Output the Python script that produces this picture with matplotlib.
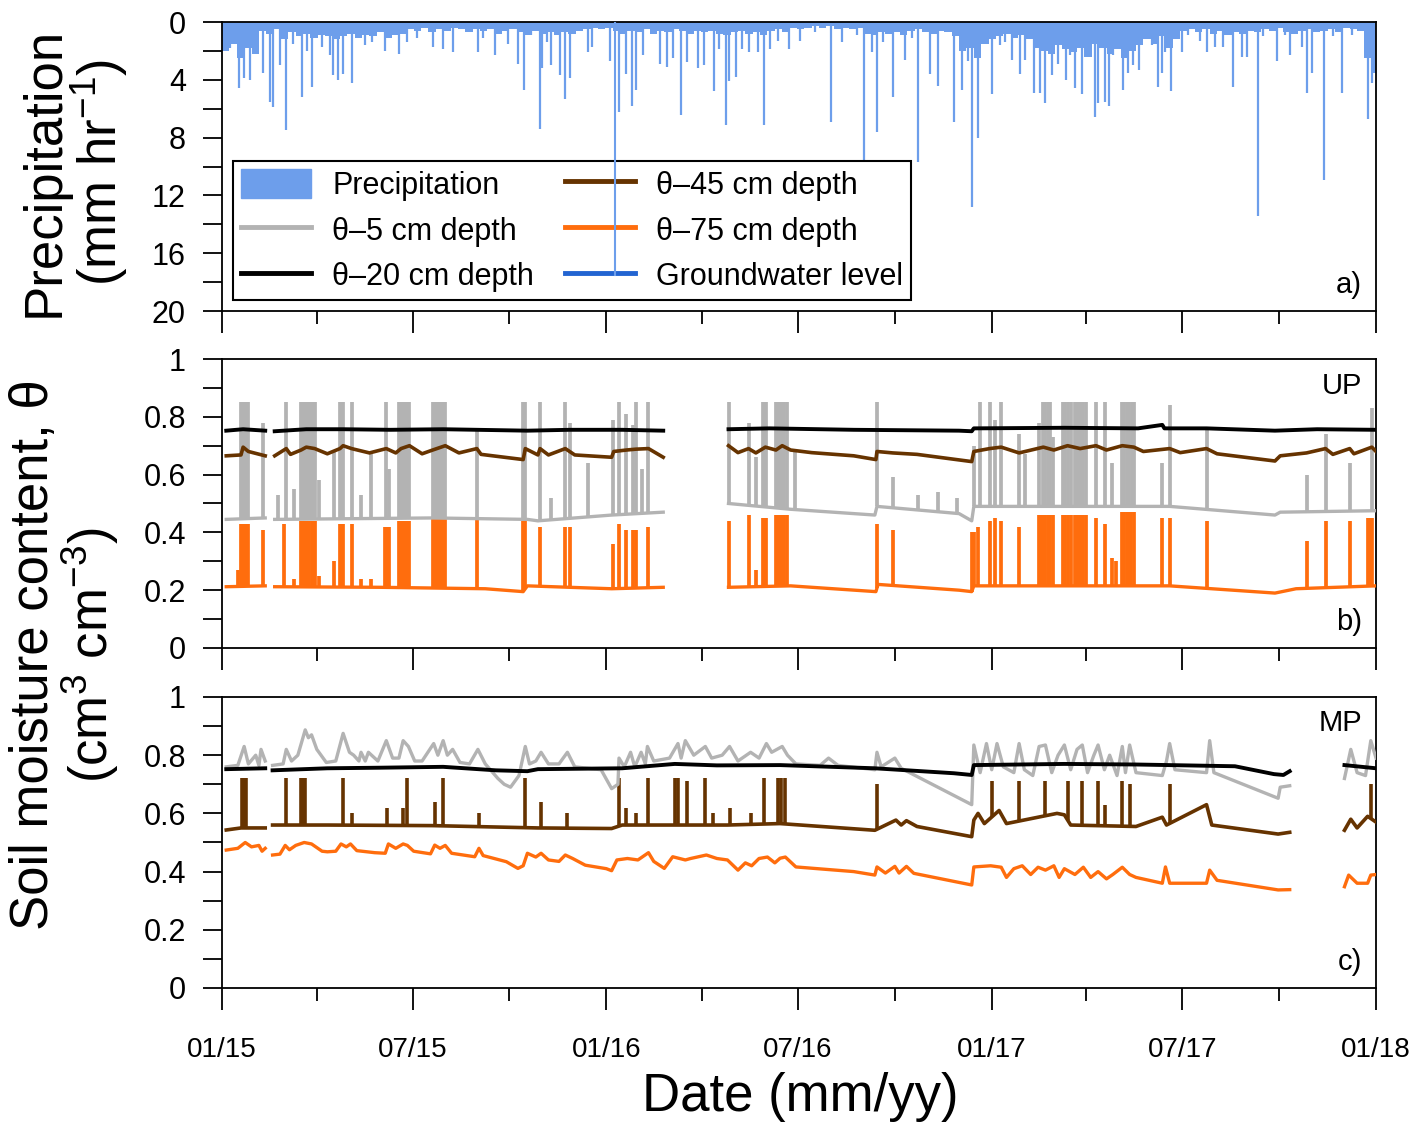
import numpy as np
import matplotlib
matplotlib.use("Agg")
import matplotlib.pyplot as plt
import matplotlib.dates as mdates
import matplotlib.patches as mpatches
from matplotlib.lines import Line2D
from matplotlib.ticker import MultipleLocator, FuncFormatter

plt.rcParams['font.family'] = ['Liberation Sans', 'DejaVu Sans']
plt.rcParams['mathtext.default'] = 'regular'

nan = np.nan

# all dates are days after 2015-01-01
# weekly background of small precipitation (mm/hr)
precip_bg = [2.0, 1.5, 2.5, 1.8, 2.2, 0.6, 0.8, 0.5, 1.2, 0.7,
             1.0, 0.8, 1.1, 0.9, 1.0, 1.2, 1.0, 0.8, 1.1, 0.9,
             1.0, 0.7, 1.1, 0.9, 0.8, 0.5, 0.6, 0.4, 0.7, 0.5,
             0.6, 0.4, 0.5, 0.7, 0.5, 0.6, 0.5, 0.8, 0.6, 0.5,
             0.7, 0.9, 0.6, 0.8, 0.7, 0.9, 0.7, 0.8, 0.6, 0.5,
             0.4, 0.5, 0.4, 0.6, 0.8, 0.6, 0.7, 0.5, 0.8, 0.6,
             0.7, 0.5, 0.6, 0.8, 0.6, 0.7, 0.6, 0.8, 0.9, 0.7,
             0.6, 0.8, 0.7, 0.9, 0.6, 0.5, 0.7, 0.4, 0.5, 0.4,
             0.3, 0.4, 0.3, 0.5, 0.4, 0.5, 0.4, 0.8, 0.9, 0.7,
             0.8, 0.7, 0.9, 0.6, 0.5, 0.7, 0.8, 0.6, 0.7, 1.0,
             2.0, 1.8, 2.5, 1.5, 1.2, 1.0, 0.8, 1.1, 0.9, 1.2,
             1.8, 2.0, 2.2, 1.6, 1.9, 2.1, 1.8, 2.4, 1.5, 1.8,
             2.2, 1.9, 2.5, 2.0, 1.6, 1.2, 1.5, 1.0, 1.8, 1.2,
             0.6, 0.5, 0.7, 0.5, 0.8, 0.6, 0.9, 0.7, 0.8, 0.6,
             0.7, 0.5, 0.6, 0.4, 0.7, 0.8, 0.6, 0.5, 0.7, 0.6,
             0.5, 0.7, 0.4, 0.5, 0.6, 2.5, 3.5]

# individual precipitation events (day, mm/hr)
precip_events = [
    (8, 1.8), (16, 4.6), (21, 3.9), (27, 4.0), (29, 1.8), (39, 3.5), (46, 5.5), (48, 5.9),
    (55, 3.0), (61, 7.5), (67, 1.5), (76, 5.2), (81, 2.0), (85, 4.5), (95, 1.7), (103, 2.3),
    (105, 3.7), (110, 4.0), (115, 3.6), (123, 4.2), (128, 1.0), (136, 1.6), (142, 1.4),
    (155, 2.0), (168, 2.2), (176, 1.4), (185, 1.1), (200, 1.7), (210, 1.9), (219, 2.1),
    (243, 2.1), (248, 1.1), (259, 2.3), (272, 1.5), (281, 2.9), (287, 4.7), (293, 0.9),
    (302, 7.4), (304, 3.2), (309, 1.4), (312, 3.0), (321, 3.7), (326, 5.3), (330, 3.9),
    (348, 2.1), (351, 1.7), (368, 2.7), (377, 6.2), (384, 3.6), (389, 5.8), (393, 4.7),
    (400, 2.3), (416, 2.9), (423, 3.1), (428, 2.5), (436, 6.4), (442, 2.8), (452, 3.2),
    (458, 3.0), (467, 4.8), (472, 1.9), (479, 7.1), (481, 4.1), (488, 3.8), (494, 1.9),
    (500, 2.1), (509, 2.1), (515, 7.1), (520, 1.9), (528, 1.3), (538, 1.9), (549, 1.3),
    (563, 0.7), (578, 6.9), (589, 1.4), (603, 0.9), (610, 9.8), (617, 2.1), (622, 7.6),
    (628, 1.4), (637, 5.2), (649, 2.6), (655, 1.1), (661, 9.7), (672, 3.6), (680, 4.4),
    (695, 6.9), (703, 4.7), (708, 2.7), (712, 12.8), (718, 8.0), (731, 5.0), (739, 1.6),
    (744, 1.4), (750, 2.6), (758, 3.6), (763, 2.6), (771, 4.9), (777, 4.9), (782, 5.6),
    (788, 3.7), (794, 2.9), (802, 4.0), (805, 2.3), (810, 4.6), (817, 5.0), (822, 2.1),
    (829, 6.6), (832, 5.6), (839, 5.5), (842, 5.8), (846, 2.3), (851, 1.9), (856, 4.7),
    (860, 3.5), (865, 3.0), (871, 3.3), (878, 0.9), (883, 1.6), (889, 4.5), (893, 3.5),
    (896, 2.1), (901, 4.8), (912, 2.1), (917, 0.9), (929, 1.3), (935, 2.1), (943, 1.7),
    (951, 1.7), (960, 4.5), (969, 2.4), (973, 2.4), (984, 13.4), (989, 1.0), (1002, 2.7),
    (1010, 0.9), (1014, 2.3), (1026, 1.7), (1030, 4.9), (1035, 3.5), (1047, 10.9),
    (1055, 1.0), (1064, 4.9), (1073, 0.9), (1083, 0.5), (1088, 6.7), (1092, 4.2)]

groundwater = [(373, 0.0), (373, 17.5)]

# ---- UP site ----
up5 = [(4, .445), (41, .45), (45, nan), (50, .445), (200, .45), (290, .445), (300, .44),
       (370, .46), (419, .47), (450, nan), (481, .50), (540, .48), (620, .46), (622, .49),
       (700, .465), (712, .44), (714, .49), (900, .49), (1000, .46), (1005, .47), (1096, .475)]
up5_spikes = [
    (18, .85), (19, .85), (20, .85), (21, .85), (22, .85), (23, .85), (24, .85), (25, .85),
    (39, .78), (53, .53), (61, .85), (68, .55), (75, .85), (76, .85), (77, .85), (78, .85),
    (79, .85), (80, .85), (81, .85), (82, .85), (83, .85), (84, .85), (85, .85), (86, .85),
    (87, .85), (88, .85), (92, .58), (106, .68), (112, .85), (113, .85), (114, .85), (115, .85),
    (123, .85), (132, .53), (141, .67), (156, .85), (159, .62), (168, .85), (169, .85),
    (171, .85), (173, .85), (175, .85), (177, .85), (178, .85), (200, .85), (202, .85),
    (204, .85), (206, .85), (208, .85), (210, .85), (212, .85), (242, .75), (286, .85),
    (288, .85), (302, .85), (312, .52), (326, .85), (330, .78), (348, .64), (371, .79),
    (377, .85), (384, .81), (390, .77), (393, .85), (399, .62), (405, .85), (481, .85),
    (500, .78), (507, .66), (514, .85), (516, .85), (517, .85), (526, .85), (528, .85),
    (530, .85), (532, .85), (534, .85), (537, .85), (544, .68), (622, .85), (637, .59),
    (661, .53), (680, .54), (698, .52), (714, .70), (720, .85), (729, .85), (734, .79),
    (740, .85), (757, .74), (763, .67), (776, .78), (780, .85), (782, .85), (784, .85),
    (786, .85), (789, .73), (799, .85), (801, .85), (803, .85), (806, .85), (810, .85),
    (812, .85), (814, .85), (816, .85), (818, .85), (821, .85), (830, .85), (839, .85),
    (845, .64), (855, .85), (857, .85), (859, .85), (861, .85), (864, .85), (866, .85),
    (893, .64), (900, .84), (935, .76), (1030, .60), (1048, .74), (1071, .64), (1092, .83)]
up20 = [(4, .752), (20, .757), (41, .752), (45, nan), (50, .750), (80, .757), (115, .757),
        (160, .755), (210, .757), (290, .752), (330, .755), (380, .755), (419, .752), (450, nan),
        (481, .757), (520, .760), (600, .755), (700, .752), (712, .750), (714, .760), (800, .762),
        (870, .760), (893, .772), (895, .760), (935, .760), (1000, .752), (1040, .757), (1096, .755)]
up45 = [(4, .665), (18, .668), (20, .695), (25, .680), (41, .665), (45, nan), (50, .665),
        (61, .690), (65, .670), (75, .685), (80, .695), (88, .690), (100, .672), (112, .690),
        (115, .700), (123, .690), (140, .675), (156, .690), (165, .675), (170, .690), (178, .700),
        (190, .672), (200, .685), (212, .700), (225, .675), (242, .690), (246, .670), (286, .652),
        (288, .690), (300, .668), (302, .690), (310, .668), (326, .690), (335, .668), (370, .660),
        (372, .680), (384, .685), (393, .688), (405, .690), (419, .660), (450, nan), (481, .700),
        (490, .676), (500, .690), (507, .675), (516, .695), (526, .685), (532, .700), (540, .685),
        (560, .676), (600, .665), (621, .652), (622, .680), (637, .675), (660, .670), (712, .645),
        (714, .680), (729, .690), (740, .695), (757, .675), (780, .695), (790, .685), (803, .700),
        (815, .690), (830, .700), (840, .685), (855, .700), (866, .695), (875, .680), (900, .690),
        (910, .676), (935, .690), (945, .672), (1000, .647), (1005, .665), (1030, .675),
        (1048, .690), (1055, .670), (1071, .690), (1075, .672), (1092, .695), (1096, .680)]
up75 = [(4, .212), (41, .215), (45, nan), (50, .212), (150, .21), (250, .205), (286, .195),
        (290, .215), (330, .21), (370, .205), (419, .21), (450, nan), (481, .21), (540, .215),
        (621, .195), (623, .22), (700, .20), (712, .195), (714, .215), (900, .215), (1000, .19),
        (1020, .205), (1096, .215)]
up75_spikes = [
    (15, .27), (18, .43), (19, .43), (20, .43), (21, .43), (22, .43), (23, .43), (24, .43),
    (25, .43), (39, .41), (59, .43), (68, .24), (75, .44), (77, .44), (79, .44), (81, .44),
    (83, .44), (85, .44), (87, .44), (88, .44), (92, .25), (106, .30), (112, .43), (113, .43),
    (114, .43), (115, .43), (123, .43), (132, .24), (141, .24), (155, .42), (157, .42),
    (159, .42), (168, .44), (170, .44), (172, .44), (174, .44), (176, .44), (178, .44),
    (200, .45), (202, .45), (204, .45), (206, .45), (208, .45), (210, .45), (212, .45),
    (242, .45), (286, .44), (288, .44), (302, .42), (326, .42), (330, .42), (371, .36),
    (377, .43), (384, .41), (390, .41), (393, .41), (405, .42), (481, .44), (500, .46),
    (507, .27), (514, .45), (516, .45), (517, .45), (526, .46), (528, .46), (530, .46),
    (532, .46), (534, .46), (537, .46), (622, .43), (637, .41), (712, .40), (714, .40),
    (718, .42), (729, .44), (734, .45), (740, .44), (757, .42), (776, .46), (778, .46),
    (780, .46), (782, .46), (784, .46), (786, .46), (789, .46), (799, .46), (801, .46),
    (803, .46), (806, .46), (810, .46), (812, .46), (814, .46), (816, .46), (818, .46),
    (821, .46), (830, .45), (839, .43), (845, .31), (849, .30), (855, .47), (857, .47),
    (859, .47), (861, .47), (863, .47), (866, .47), (893, .45), (900, .45), (935, .44),
    (1030, .37), (1048, .44), (1071, .44), (1088, .45), (1090, .45), (1092, .45)]

# ---- MP site ----
mp5 = [(4, .76), (15, .765), (21, .83), (25, .77), (32, .80), (35, .765), (37, .82), (41, .78),
       (45, nan), (48, .765), (58, .77), (61, .82), (66, .78), (72, .80), (79, .887), (82, .86),
       (85, .87), (90, .82), (96, .79), (99, .775), (108, .78), (115, .875), (121, .81), (125, .80),
       (130, .78), (132, .81), (136, .78), (139, .81), (148, .78), (156, .85), (162, .79),
       (168, .79), (172, .85), (177, .83), (183, .78), (190, .78), (201, .84), (205, .80),
       (210, .85), (214, .80), (219, .82), (226, .775), (235, .77), (243, .82), (250, .77),
       (262, .72), (268, .70), (274, .69), (282, .73), (288, .83), (292, .77), (298, .78),
       (303, .81), (310, .77), (320, .77), (328, .81), (335, .76), (360, .75), (370, .685),
       (376, .70), (377, .79), (382, .76), (388, .81), (392, .76), (398, .81), (402, .77),
       (404, .83), (410, .78), (425, .79), (433, .84), (436, .79), (440, .85), (448, .80),
       (459, .83), (465, .79), (475, .80), (482, .83), (490, .78), (502, .81), (510, .79),
       (517, .84), (522, .81), (532, .83), (537, .80), (545, .77), (568, .765), (576, .79),
       (585, .765), (620, .75), (622, .81), (626, .76), (639, .79), (645, .755), (712, .63),
       (714, .835), (720, .74), (726, .84), (731, .75), (736, .84), (742, .76), (752, .74),
       (757, .84), (762, .75), (770, .73), (776, .83), (782, .835), (788, .74), (794, .80),
       (800, .835), (806, .75), (812, .82), (817, .835), (822, .74), (828, .80), (832, .835),
       (838, .75), (843, .80), (850, .73), (855, .83), (858, .74), (862, .835), (868, .74),
       (893, .73), (897, .78), (900, .84), (905, .75), (935, .74), (938, .85), (942, .74),
       (1003, .652), (1005, .69), (1014, .695), (1040, nan), (1066, .72), (1072, .82),
       (1078, .74), (1086, .73), (1091, .85), (1096, .79)]
mp20 = [(4, .752), (41, .755), (45, nan), (48, .748), (100, .755), (150, .757), (210, .76),
        (260, .748), (290, .745), (300, .752), (380, .755), (430, .77), (470, .765), (530, .766),
        (620, .755), (695, .738), (712, .732), (714, .766), (800, .77), (868, .768), (962, .762),
        (999, .735), (1008, .732), (1014, .745), (1040, nan), (1066, .766), (1096, .755)]
mp45 = [(4, .543), (18, .55), (41, .55), (45, nan), (48, .56), (100, .56), (200, .558),
        (300, .55), (370, .548), (380, .56), (480, .56), (530, .565), (620, .542), (640, .577),
        (645, .56), (650, .575), (660, .555), (712, .52), (714, .577), (718, .60), (724, .565),
        (738, .61), (745, .565), (793, .60), (800, .595), (806, .56), (868, .555), (893, .587),
        (897, .56), (935, .63), (940, .56), (1003, .529), (1014, .535), (1040, nan), (1066, .542),
        (1072, .58), (1078, .55), (1088, .59), (1096, .57)]
mp45_spikes = [
    (19, .72), (21, .72), (23, .72), (61, .72), (75, .72), (77, .72), (79, .72), (115, .72),
    (123, .60), (157, .62), (172, .62), (176, .72), (202, .64), (210, .72), (244, .60),
    (288, .72), (303, .64), (328, .60), (377, .72), (384, .62), (393, .60), (405, .72),
    (430, .72), (433, .72), (442, .71), (459, .72), (466, .60), (482, .62), (502, .60),
    (515, .72), (528, .72), (531, .72), (535, .72), (622, .70), (731, .71), (757, .71),
    (782, .71), (803, .71), (817, .71), (832, .71), (839, .63), (855, .71), (862, .70),
    (900, .70), (1091, .70)]
mp75 = [(4, .474), (15, .48), (22, .50), (28, .485), (35, .49), (38, .47), (41, .48), (45, nan),
        (48, .457), (55, .46), (60, .49), (64, .475), (70, .49), (78, .50), (85, .495), (95, .47),
        (100, .468), (108, .47), (113, .495), (118, .485), (122, .495), (128, .472), (145, .465),
        (155, .463), (158, .495), (165, .48), (172, .495), (176, .49), (182, .47), (198, .461),
        (202, .491), (207, .48), (212, .49), (218, .463), (240, .451), (244, .48), (248, .455),
        (270, .434), (281, .411), (286, .42), (290, .463), (298, .45), (303, .463), (310, .44),
        (320, .435), (326, .457), (333, .445), (345, .422), (365, .41), (370, .403), (375, .44),
        (385, .445), (395, .44), (405, .465), (410, .435), (420, .411), (428, .451), (440, .44),
        (445, .445), (460, .457), (470, .445), (480, .44), (490, .405), (497, .43), (503, .42),
        (510, .445), (518, .45), (525, .43), (530, .446), (535, .45), (545, .416), (600, .40),
        (620, .388), (622, .416), (630, .395), (639, .418), (643, .395), (650, .418), (657, .394),
        (712, .354), (714, .416), (730, .42), (740, .415), (745, .38), (752, .41), (760, .42),
        (768, .39), (775, .415), (782, .405), (790, .42), (795, .38), (800, .41), (810, .39),
        (818, .415), (825, .38), (832, .40), (840, .375), (846, .39), (855, .415), (862, .39),
        (868, .38), (893, .36), (896, .416), (900, .36), (935, .36), (938, .405), (945, .37),
        (1003, .337), (1014, .338), (1040, nan), (1066, .348), (1070, .388), (1078, .36),
        (1088, .36), (1091, .388), (1096, .39)]

c_precip = '#6d9eeb'
c_gw = '#2264d1'
c5, c20, c45, c75 = '#b3b3b3', '#000000', '#663300', '#ff6d0d'

t0 = mdates.date2num(np.datetime64('2015-01-01'))


def xy(pairs):
    a = np.array(pairs, dtype=float)
    return t0 + a[:, 0], a[:, 1]


def spikes(ax, base, spk, color, lw):
    bx, by = xy(base)
    ok = ~np.isnan(by)
    sx, sy = xy(spk)
    bottom = np.interp(sx, bx[ok], by[ok])
    ax.vlines(sx, bottom, sy, color=color, lw=lw, zorder=2)


fig = plt.figure(figsize=(14.17, 11.24), dpi=100)
axa = fig.add_axes([0.1567, 0.7233, 0.8144, 0.2571])
axb = fig.add_axes([0.1567, 0.4235, 0.8144, 0.2571])
axc = fig.add_axes([0.1567, 0.1210, 0.8144, 0.2589])

# panel a: precipitation
wk = t0 + 7 * np.arange(len(precip_bg))
axa.bar(wk, precip_bg, width=7, align='edge', color=c_precip, lw=0)
px, py = xy(precip_events)
axa.vlines(px, 0, py, color=c_precip, lw=1.6)
gx, gy = xy(groundwater)
axa.plot(gx, gy, color=c_precip, lw=1.5, zorder=6)
axa.set_ylim(20, 0)
axa.yaxis.set_major_locator(MultipleLocator(4))
axa.yaxis.set_minor_locator(MultipleLocator(2))

handles = [mpatches.Patch(color=c_precip, label='Precipitation'),
           Line2D([], [], color=c5, lw=3.5, label='\u03b8\u20135 cm depth'),
           Line2D([], [], color=c20, lw=3.5, label='\u03b8\u201320 cm depth'),
           Line2D([], [], color=c45, lw=3.5, label='\u03b8\u201345 cm depth'),
           Line2D([], [], color=c75, lw=3.5, label='\u03b8\u201375 cm depth'),
           Line2D([], [], color=c_gw, lw=3.5, label='Groundwater level')]
leg = axa.legend(handles=handles, ncol=2, loc='lower left', bbox_to_anchor=(0.0095, 0.038),
                 borderaxespad=0, fontsize=22, frameon=True, fancybox=False, framealpha=1,
                 edgecolor='black', handlelength=2.3, handleheight=1.1, handletextpad=0.7,
                 columnspacing=1.0, labelspacing=0.45, borderpad=0.25)
leg.get_frame().set_linewidth(1.5)
axa.text(0.988, 0.04, 'a)', transform=axa.transAxes, ha='right', va='bottom', fontsize=21)

# panel b: UP
for base, spk, col in [(up5, up5_spikes, c5), (up75, up75_spikes, c75)]:
    spikes(axb, base, spk, col, 2.7)
for ser, col, lw in [(up5, c5, 2.4), (up75, c75, 2.4), (up45, c45, 2.6), (up20, c20, 2.8)]:
    x, y = xy(ser)
    axb.plot(x, y, color=col, lw=lw, zorder=3)
axb.text(0.988, 0.955, 'UP', transform=axb.transAxes, ha='right', va='top', fontsize=21)
axb.text(0.988, 0.04, 'b)', transform=axb.transAxes, ha='right', va='bottom', fontsize=21)

# panel c: MP
spikes(axc, mp45, mp45_spikes, c45, 2.6)
for ser, col, lw in [(mp5, c5, 2.4), (mp75, c75, 2.4), (mp45, c45, 2.6), (mp20, c20, 2.8)]:
    x, y = xy(ser)
    axc.plot(x, y, color=col, lw=lw, zorder=3)
axc.text(0.988, 0.96, 'MP', transform=axc.transAxes, ha='right', va='top', fontsize=21)
axc.text(0.988, 0.04, 'c)', transform=axc.transAxes, ha='right', va='bottom', fontsize=21)

for ax in (axb, axc):
    ax.set_ylim(0, 1)
    ax.yaxis.set_major_locator(MultipleLocator(0.2))
    ax.yaxis.set_minor_locator(MultipleLocator(0.1))
    ax.yaxis.set_major_formatter(FuncFormatter(lambda v, p: '%g' % round(v, 1)))

for ax in (axa, axb, axc):
    ax.set_xlim(t0, mdates.date2num(np.datetime64('2018-01-01')))
    ax.xaxis.set_major_locator(mdates.MonthLocator(bymonth=[1, 7]))
    ax.xaxis.set_minor_locator(mdates.MonthLocator(bymonth=[4, 10]))
    ax.xaxis.set_major_formatter(mdates.DateFormatter('%m/%y'))
    ax.tick_params(axis='y', which='both', direction='out', length=14, width=1.3,
                   labelsize=22, pad=12)
    ax.tick_params(axis='x', which='major', direction='out', length=16, width=1.3,
                   labelsize=20, pad=19)
    ax.tick_params(axis='x', which='minor', direction='out', length=9, width=1.3)
    for s in ax.spines.values():
        s.set_linewidth(1.3)
    if ax is not axc:
        ax.tick_params(axis='x', labelbottom=False)

fig.text(75 / 1417, 1 - 172 / 1124, 'Precipitation\n(mm hr$^{-1}$)', rotation=90,
         ha='center', va='center', ma='center', fontsize=38, linespacing=1.0)
fig.text(65 / 1417, 1 - 655 / 1124, 'Soil moisture content, \u03b8\n(cm$^{3}$ cm$^{-3}$)',
         rotation=90, ha='center', va='center', ma='center', fontsize=38, linespacing=1.0)
fig.text(800 / 1417, 1 - 1097 / 1124, 'Date (mm/yy)', ha='center', va='center', fontsize=38)

fig.savefig('out.png', dpi=100)
